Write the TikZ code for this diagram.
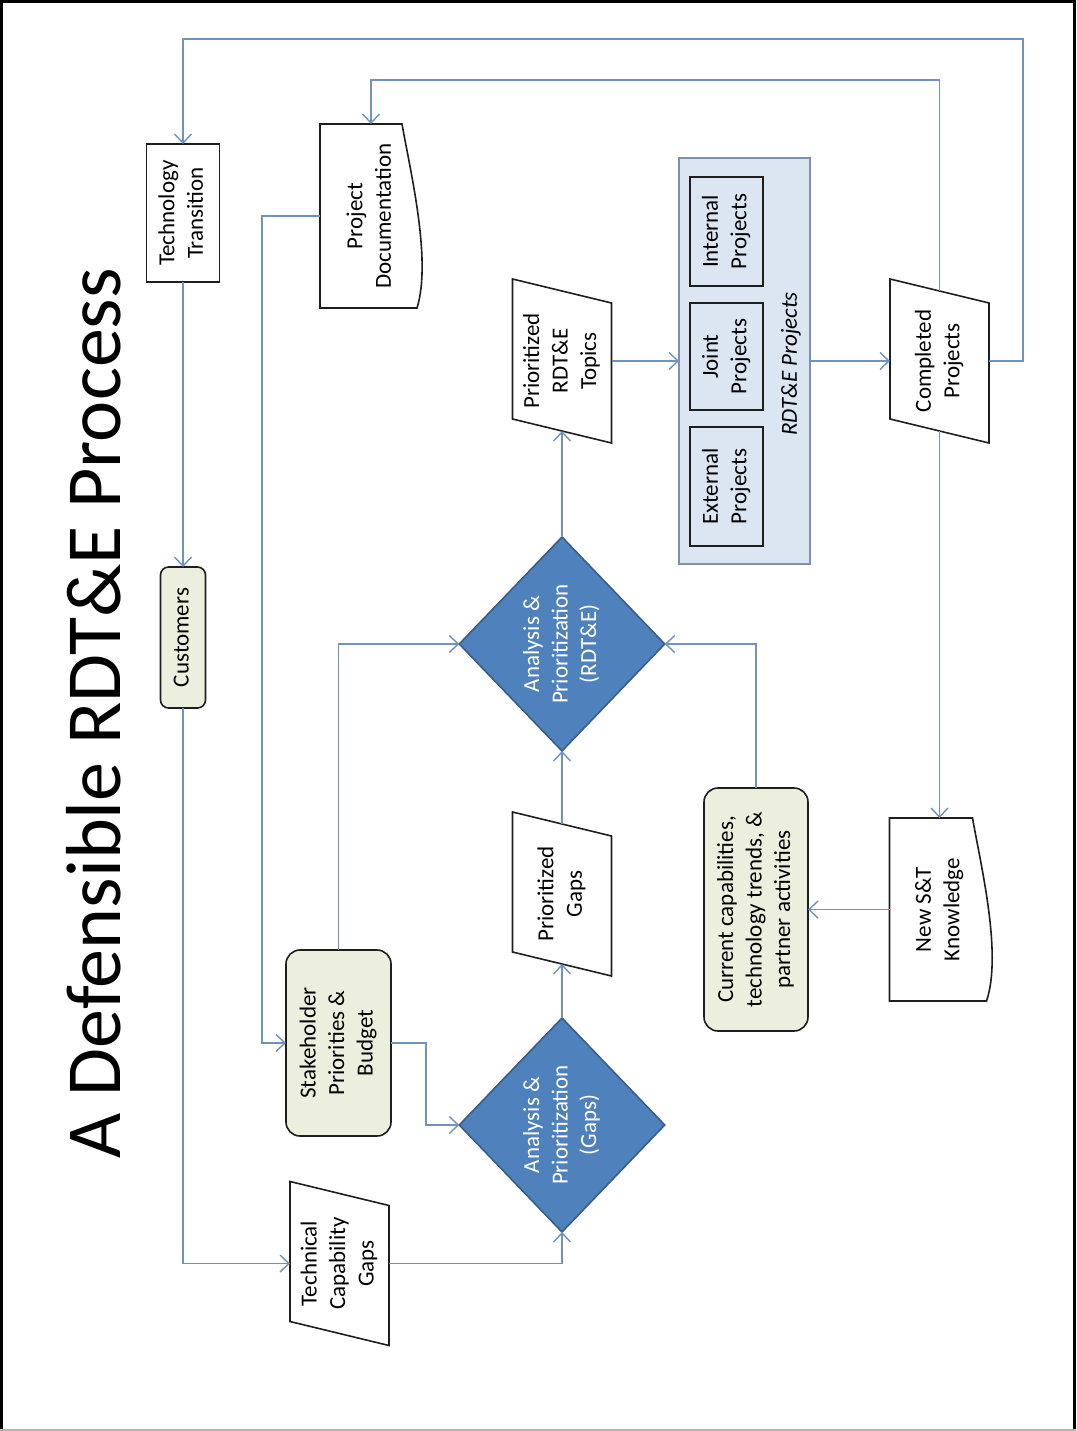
\documentclass[tikz,border=0pt]{standalone}
\usepackage{fontspec}
\setmainfont{Carlito}
\usepackage{graphicx}
\usetikzlibrary{shapes.geometric,arrows.meta,calc}
\definecolor{conn}{RGB}{112,146,190}
\definecolor{greenfill}{RGB}{236,239,222}
\definecolor{bluefill}{RGB}{220,230,242}
\definecolor{bluebord}{RGB}{125,145,170}
\definecolor{diafill}{RGB}{79,129,189}
\definecolor{diabord}{RGB}{56,93,138}
\definecolor{ink}{RGB}{30,30,30}
\newcommand\rt[1]{\rotatebox{90}{\begin{tabular}{@{}c@{}}#1\end{tabular}}}
\newcommand\paraline[1]{\draw[ink, line width=1.6pt, line join=miter]
  ([yshift=12pt]#1.north west) -- ([yshift=-12pt]#1.north east) --
  ([yshift=-12pt]#1.south east) -- ([yshift=12pt]#1.south west) -- cycle;}
\begin{document}
\begin{tikzpicture}[x=1pt,y=-1pt,
  every node/.style={font=\fontsize{23}{28.5}\selectfont, inner sep=0pt, outer sep=0pt},
  plainbox/.style={rectangle, draw=ink, line width=1.6pt, fill=white},
  roundbox/.style={rectangle, rounded corners=14pt, draw=ink, line width=1.6pt, fill=greenfill},
  subbox/.style={rectangle, draw=ink, line width=1.6pt},
  container/.style={rectangle, draw=bluebord, line width=1.6pt, fill=bluefill},
  decision/.style={diamond, draw=diabord, line width=1.6pt, fill=diafill, text=white,
    minimum width=204pt, minimum height=214pt},
  paraframe/.style={rectangle, draw=none, minimum width=99pt, minimum height=140pt},
  docframe/.style={rectangle, draw=none},
  flow/.style={draw=conn, line width=1.4pt, -{Straight Barb[length=9pt,width=17pt]}}]
\useasboundingbox (0,0) rectangle (1076,1431);
% page frame
\draw[black, line width=3pt] (1.5,1429.5) -- (1.5,1.5) -- (1074.5,1.5) -- (1074.5,1429.5);
\draw[gray!60, line width=2pt] (0,1429.5) -- (1076,1429.5);
% title
\node[rotate=90, anchor=base, font=\fontsize{78}{90}\selectfont] (title) at (120,713.5)
  {A Defensible RDT\&E Process};
% nodes
\node[plainbox, minimum width=73pt, minimum height=138pt] (tt) at (183,213) {\rt{Technology\\Transition}};
\node[roundbox, rounded corners=8pt, minimum width=45pt, minimum height=141pt] (cust) at (183,637.5) {\rt{Customers}};
\node[paraframe] (tcg) at (339.5,1263.5) {\rt{Technical\\Capability\\Gaps}};
\node[roundbox, minimum width=105pt, minimum height=186pt] (sh) at (338.5,1043) {\rt{Stakeholder\\Priorities \&\\Budget}};
\node[decision] (dg) at (562,1125) {\rt{Analysis \&\\Prioritization\\(Gaps)}};
\node[paraframe] (pg) at (562,894) {\rt{Prioritized\\Gaps}};
\node[decision] (dr) at (562,644) {\rt{Analysis \&\\Prioritization\\(RDT\&E)}};
\node[paraframe] (pt) at (562,361) {\rt{Prioritized\\RDT\&E\\Topics}};
\node[docframe, minimum width=102pt, minimum height=184pt] (pd) at (371,216) {\rt{Project\\Documentation}};
\node[container, minimum width=131pt, minimum height=406pt] (cont) at (744.5,361) {};
\node[subbox, minimum width=73pt, minimum height=109pt] (ip) at (726.5,231.5) {\rt{Internal\\Projects}};
\node[subbox, minimum width=73pt, minimum height=107pt] (jp) at (726.5,356.5) {\rt{Joint\\Projects}};
\node[subbox, minimum width=73pt, minimum height=119pt] (ep) at (726.5,486.5) {\rt{External\\Projects}};
\node[font=\fontsize{23}{28.5}\selectfont\itshape] (contlabel) at (791,364) {\rotatebox{90}{RDT\&E Projects}};
\node[paraframe] (cp) at (939.5,361) {\rt{Completed\\Projects}};
\node[docframe, minimum width=100pt, minimum height=183pt] (nk) at (939.5,909.5) {\rt{New S\&T\\Knowledge}};
\node[roundbox, minimum width=104pt, minimum height=243pt] (cur) at (756,909.5)
  {\rt{Current capabilities,\\technology trends, \&\\partner activities}};
% outlines of parallelograms
\paraline{tcg}
\paraline{pg}
\paraline{pt}
\paraline{cp}
% document shapes
\draw[ink, line width=1.6pt] (pd.north west) -- ([xshift=-20pt]pd.north east)
  .. controls ([xshift=-12pt,yshift=-46pt]pd.north east) and ([xshift=10pt,yshift=-136pt]pd.north east)
  .. ([xshift=-5pt]pd.south east) -- (pd.south west) -- cycle;
\draw[ink, line width=1.6pt] (nk.north west) -- ([xshift=-17pt]nk.north east)
  .. controls ([xshift=-9pt,yshift=-46pt]nk.north east) and ([xshift=13pt,yshift=-136pt]nk.north east)
  .. ([xshift=-3pt]nk.south east) -- (nk.south west) -- cycle;
% connectors
\draw[flow] (tt.south) -- (cust.north);
\draw[flow] (cust.south) |- (tcg.west);
\draw[flow] (tcg.east) -| (dg.south);
\draw[flow] (sh.east) -- ++(35,0) |- (dg.west);
\draw[flow] (pd.west) -- ++(-58,0) |- (sh.west);
\draw[flow] (dg.north) -- (pg.south);
\draw[flow] (pg.north) -- (dr.south);
\draw[flow] (sh.north) |- (dr.west);
\draw[flow] (cur.north) |- (dr.east);
\draw[flow] (dr.north) -- (pt.south);
\draw[flow] (pt.east) -- (cont.west);
\draw[flow] (cont.east) -- (cp.west);
\draw[flow] (cp.north) -- ++(0,-211) -| (pd.north);
\draw[flow] (cp.east) -- ++(34,0) -- ++(0,-322) -| (tt.north);
\draw[flow] (cp.south) -- (nk.north);
\draw[flow] (nk.west) -- (cur.east);
\end{tikzpicture}
\end{document}
